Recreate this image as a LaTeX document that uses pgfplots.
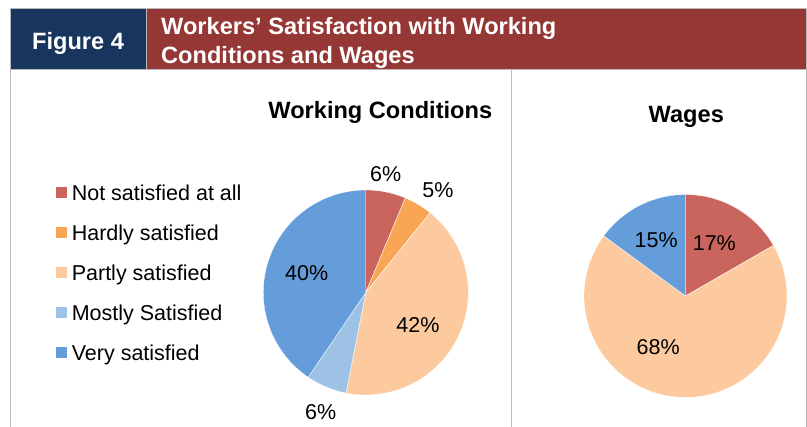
\documentclass[border=0pt]{standalone}
\usepackage{pgfplots}
\pgfplotsset{compat=1.18}
\usepackage{fontspec}
\setmainfont{Liberation Sans}
\definecolor{cRed}{RGB}{202,101,93}
\definecolor{cOrange}{RGB}{248,166,84}
\definecolor{cPeach}{RGB}{252,202,158}
\definecolor{cLBlue}{RGB}{158,194,230}
\definecolor{cBlue}{RGB}{101,157,218}
\definecolor{cNavy}{RGB}{24,54,93}
\definecolor{cHead}{RGB}{149,55,53}
\definecolor{cLine}{RGB}{185,185,185}
\newcommand{\lbl}{\fontsize{21.5}{25}\selectfont}
\newcommand{\ttl}{\fontsize{23.6}{28}\selectfont\bfseries}
\newcommand{\piereset}{\gdef\cum{0}}
\newcommand{\slice}[2]{%
  \pgfmathsetmacro{\aS}{90-3.6*\cum}%
  \pgfmathsetmacro{\aE}{90-3.6*(\cum+#1)}%
  \pgfmathsetmacro{\newcum}{\cum+#1}%
  \global\let\cum\newcum
  \edef\doslice{\noexpand\addplot[fill=#2, draw=white, line width=0.35pt, domain=\aE:\aS, samples=90] ({cos(x)},{sin(x)}) -- (axis cs:0,0) -- cycle;}%
  \doslice
}
\begin{document}
\begin{tikzpicture}
\useasboundingbox (0,0) rectangle (807pt,427pt);
% header
\fill[cNavy] (10pt,357pt) rectangle (146pt,418pt);
\fill[cHead] (146pt,357pt) rectangle (806pt,418pt);
\draw[cLine, line width=1pt] (10pt,357pt) rectangle (806pt,418pt);
\draw[cLine, line width=1pt] (146pt,357pt) -- (146pt,418pt);
\node[anchor=base, inner sep=0pt, text=white, font=\ttl] at (78pt,377pt) {Figure 4};
\node[anchor=base west, inner sep=0pt, text=white, font=\ttl] at (161pt,392pt) {Workers’ Satisfaction with Working};
\node[anchor=base west, inner sep=0pt, text=white, font=\ttl] at (161pt,363.7pt) {Conditions and Wages};
% panel lines
\draw[cLine, line width=1pt] (10.5pt,357pt) -- (10.5pt,0pt);
\draw[cLine, line width=1pt] (511.7pt,357pt) -- (511.7pt,0pt);
\draw[cLine, line width=1pt] (806pt,357pt) -- (806pt,0pt);
% titles
\node[anchor=base, inner sep=0pt, font=\ttl] at (380.3pt,308.7pt) {Working Conditions};
\node[anchor=base, inner sep=0pt, font=\ttl] at (686.3pt,304.3pt) {Wages};
% Working conditions pie
\begin{axis}[at={(365.8pt,134.5pt)}, anchor=center, scale only axis,
  width=205pt, height=205pt, xmin=-1, xmax=1, ymin=-1, ymax=1,
  hide axis, clip=false,
  legend image code/.code={\fill[#1, draw=none] (0pt,-5.2pt) rectangle (10.5pt,5.2pt);},
  legend cell align=left,
  legend style={at={(-1.0112,1.0244)}, anchor=north west, draw=none, fill=none,
    inner sep=0pt, outer sep=0pt, row sep=24.6pt, column sep=5.3pt,
    font=\lbl, nodes={inner sep=0pt, text height=15.4pt, text depth=0pt}}]
\piereset
\slice{6.3}{cRed}
\slice{4.5}{cOrange}
\slice{42.3}{cPeach}
\slice{6.4}{cLBlue}
\slice{40.5}{cBlue}
\legend{Not satisfied at all, Hardly satisfied, Partly satisfied, Mostly Satisfied, Very satisfied}
\node[font=\lbl] at (axis cs:0.194,1.156) {6\%};
\node[font=\lbl] at (axis cs:0.704,1.0) {5\%};
\node[font=\lbl] at (axis cs:-0.577,0.193) {40\%};
\node[font=\lbl] at (axis cs:0.509,-0.317) {42\%};
\node[font=\lbl] at (axis cs:-0.44,-1.163) {6\%};
\end{axis}
% Wages pie
\begin{axis}[at={(685.5pt,131pt)}, anchor=center, scale only axis,
  width=203pt, height=203pt, xmin=-1, xmax=1, ymin=-1, ymax=1,
  hide axis, clip=false]
\piereset
\slice{16.7}{cRed}
\slice{68.4}{cPeach}
\slice{14.9}{cBlue}
\node[font=\lbl] at (axis cs:-0.289,0.552) {15\%};
\node[font=\lbl] at (axis cs:0.284,0.522) {17\%};
\node[font=\lbl] at (axis cs:-0.269,-0.502) {68\%};
\end{axis}
\end{tikzpicture}
\end{document}
